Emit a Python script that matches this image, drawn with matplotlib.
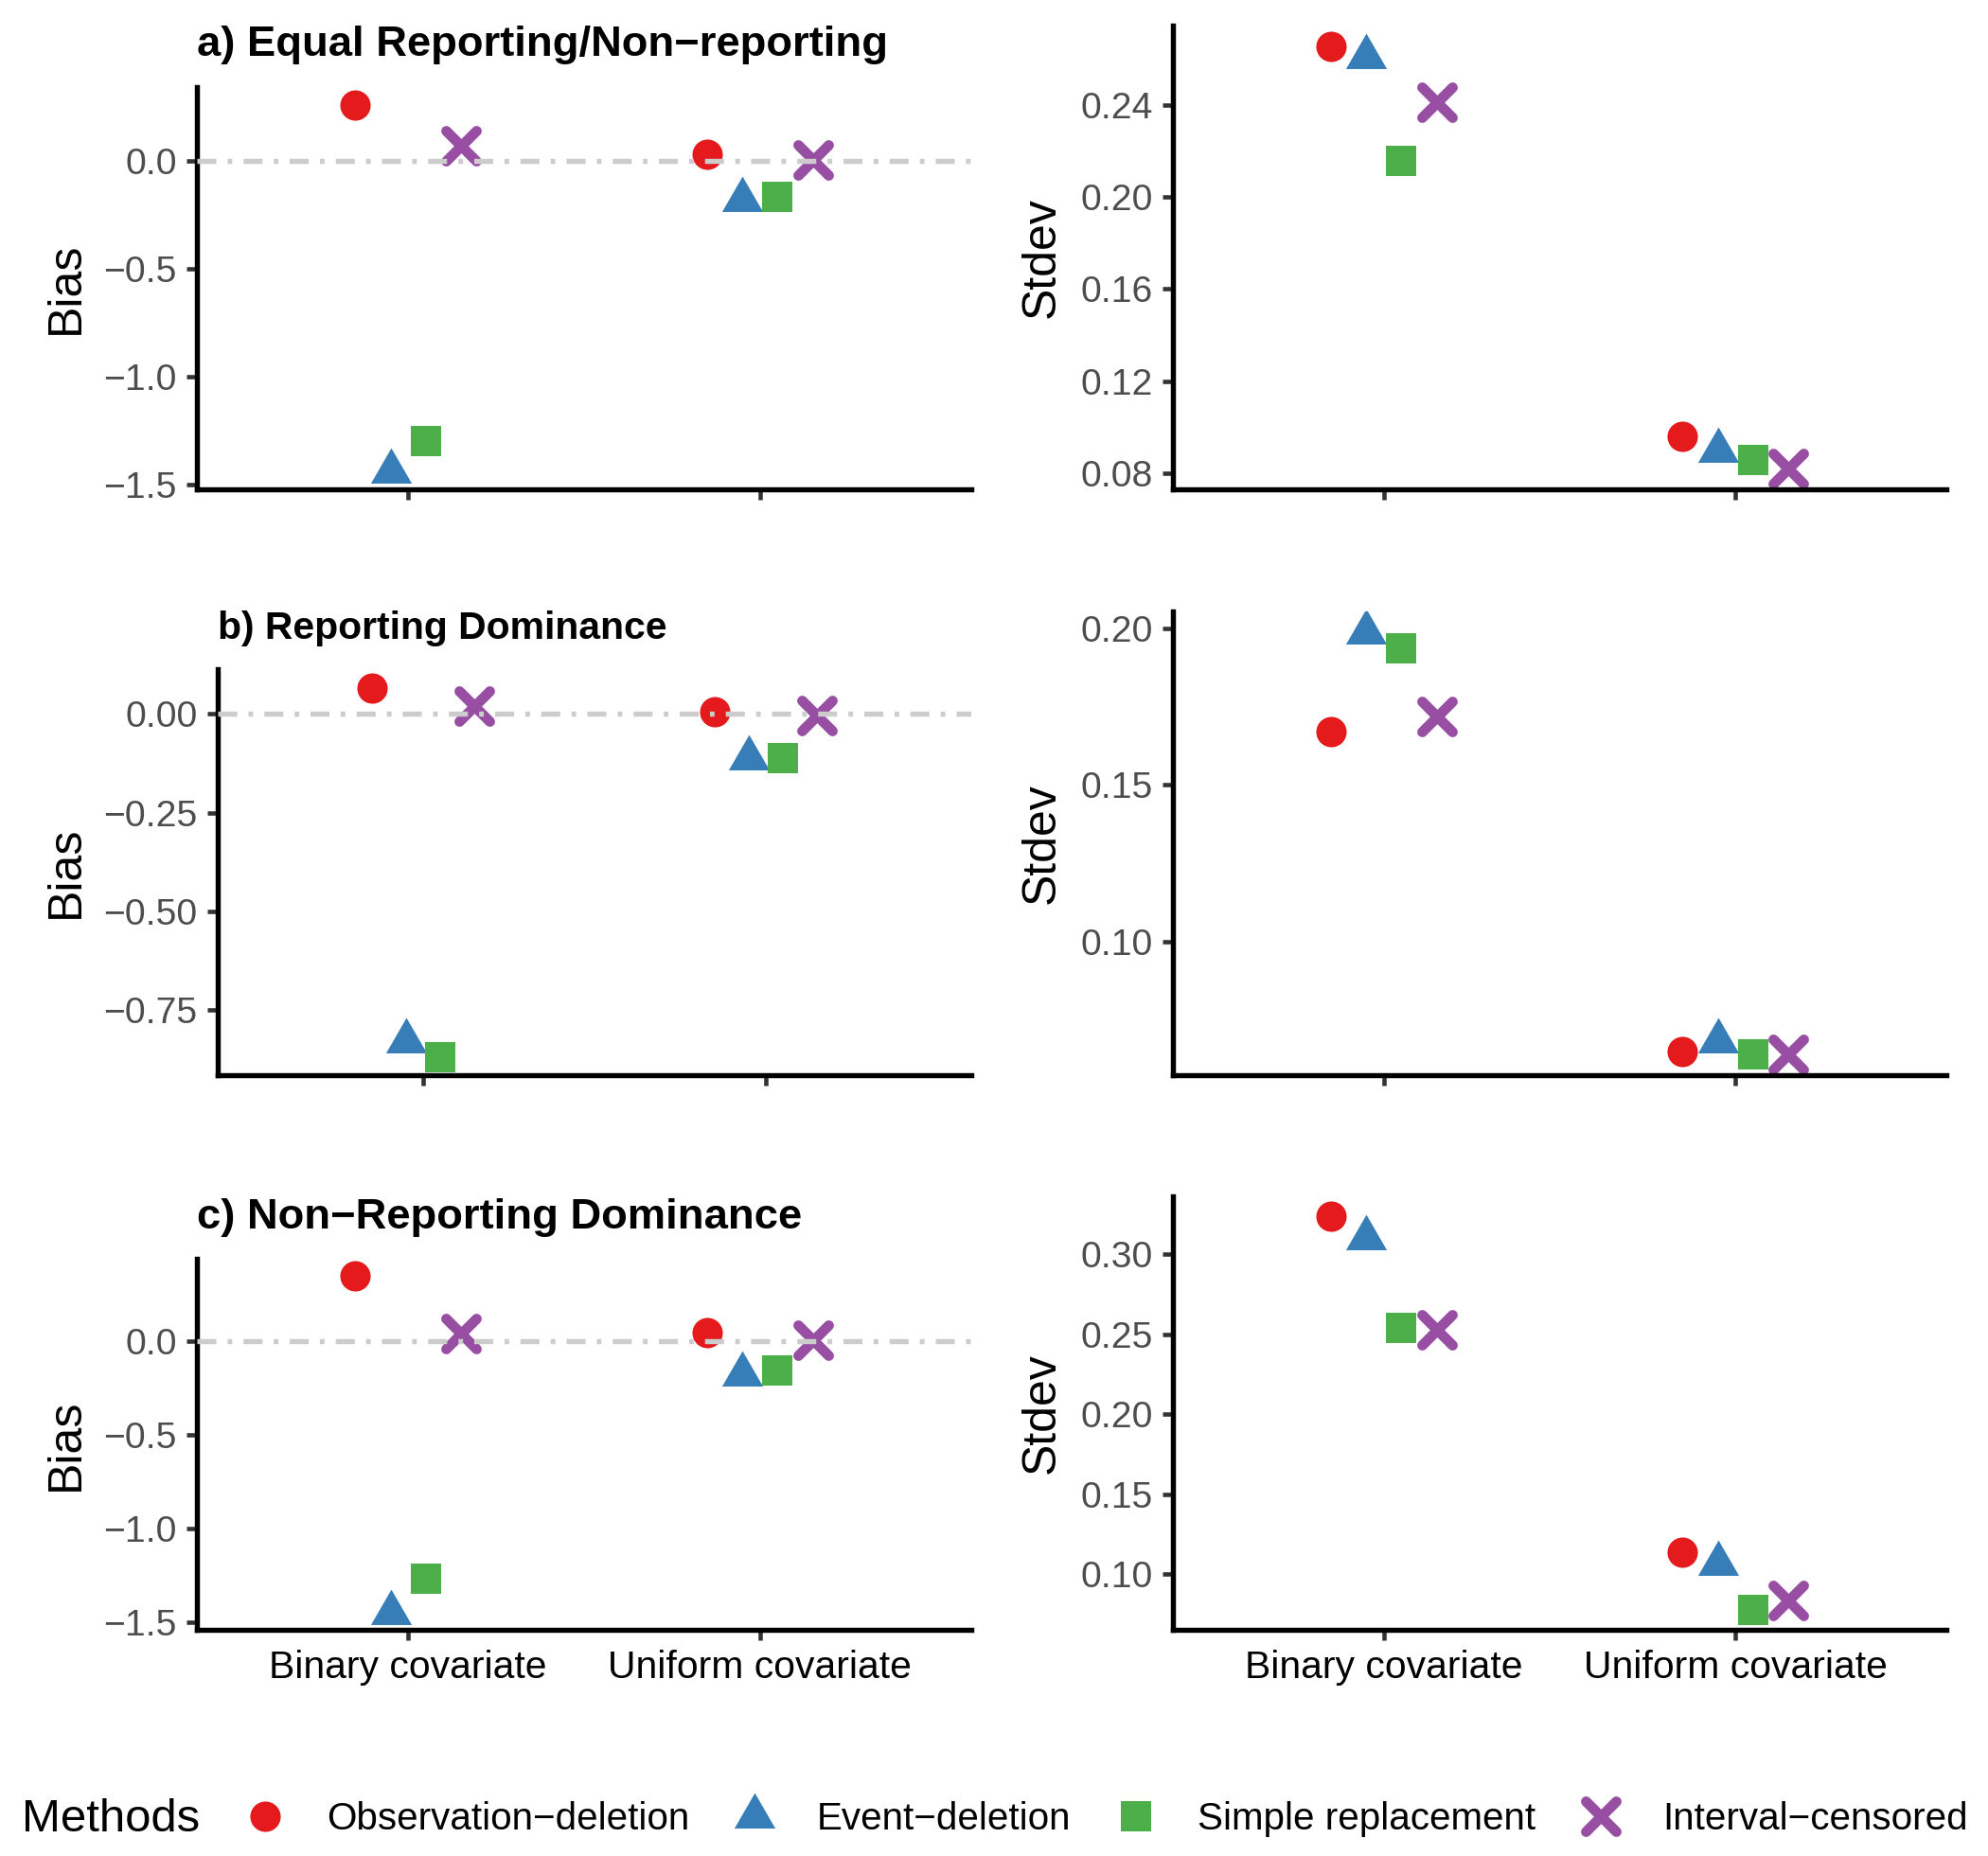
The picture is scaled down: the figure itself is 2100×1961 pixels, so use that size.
import matplotlib
matplotlib.use("Agg")
import matplotlib.pyplot as plt
from matplotlib.lines import Line2D
from matplotlib.markers import MarkerStyle
from matplotlib.path import Path
from matplotlib.ticker import MultipleLocator

plt.rcParams['font.family'] = ['Liberation Sans', 'DejaVu Sans']

covariates = ["Binary covariate", "Uniform covariate"]
methods = ["Observation\u2212deletion", "Event\u2212deletion",
           "Simple replacement", "Interval\u2212censored"]
colors = ["#E41A1C", "#377EB8", "#4DAF4A", "#984EA3"]
titles = ["a) Equal Reporting/Non\u2212reporting",
          "b) Reporting Dominance",
          "c) Non\u2212Reporting Dominance"]

# values per method, in the order of `methods`
bias_a_binary = [0.257, -1.436, -1.295, 0.070]
bias_a_uniform = [0.031, -0.180, -0.166, 0.003]
sd_a_binary = [0.2656, 0.2613, 0.2157, 0.2416]
sd_a_uniform = [0.0960, 0.0896, 0.0856, 0.0820]

bias_b_binary = [0.067, -0.829, -0.868, 0.021]
bias_b_uniform = [0.006, -0.111, -0.112, -0.003]
sd_b_binary = [0.1670, 0.1987, 0.1935, 0.1720]
sd_b_uniform = [0.0649, 0.0680, 0.0640, 0.0640]

bias_c_binary = [0.347, -1.452, -1.271, 0.040]
bias_c_uniform = [0.045, -0.181, -0.161, 0.004]
sd_c_binary = [0.3240, 0.3100, 0.2538, 0.2528]
sd_c_uniform = [0.1138, 0.1070, 0.0777, 0.0836]

dodge = [-0.15, -0.05, 0.05, 0.15]

# R-style triangle: point sits at the centroid
tri = Path([(0, 1.555), (1.347, -0.778), (-1.347, -0.778), (0, 1.555)],
           [Path.MOVETO, Path.LINETO, Path.LINETO, Path.CLOSEPOLY])
dot = 7.7
marker_kw = [
    dict(marker='o', markersize=dot, markeredgewidth=0),
    dict(marker=tri, markersize=dot * 1.555, markeredgewidth=0),
    dict(marker='s', markersize=dot, markeredgewidth=0),
    dict(marker=MarkerStyle('x', capstyle='round'), markersize=dot,
         markeredgewidth=2.6),
]

W, H = 2100, 1961


def rect(x0, y0, x1, y1):
    return [x0 / W, 1 - y1 / H, (x1 - x0) / W, (y1 - y0) / H]


def draw_panel(ax, binary, uniform, step, hline, xlabels):
    for i in range(4):
        xs = [1 + dodge[i], 2 + dodge[i]]
        ys = [binary[i], uniform[i]]
        ax.plot(xs, ys, linestyle='none', color=colors[i], zorder=2,
                **marker_kw[i])
    if hline:
        ax.axhline(0, color='#CCCCCC', lw=1.3, dashes=(3.7, 2.2, 0.9, 2.2),
                   zorder=3)
    ax.set_xlim(0.4, 2.6)
    ax.margins(y=0.05)
    ax.yaxis.set_major_locator(MultipleLocator(step))
    ax.set_xticks([1, 2])
    ax.set_xticklabels(covariates)
    for s in ['top', 'right']:
        ax.spines[s].set_visible(False)
    for s in ['left', 'bottom']:
        ax.spines[s].set_linewidth(1.3)
        ax.spines[s].set_color('black')
    ax.tick_params(direction='out', length=2.75, width=1.1, color='#333333',
                   pad=2.4)
    ax.tick_params(axis='y', labelsize=9.4, labelcolor='#4D4D4D')
    ax.tick_params(axis='x', labelsize=9.8, labelcolor='black',
                   labelbottom=xlabels)


fig = plt.figure(figsize=(W / 300, H / 300), dpi=300)

panels = [
    # left rect, right rect, data, y steps, title (x, baseline, size)
    (rect(208, 92, 1026, 517), rect(1239, 27, 2056, 517),
     bias_a_binary, bias_a_uniform, sd_a_binary, sd_a_uniform,
     0.5, 0.04, (208, 59, 10.9)),
    (rect(230, 707, 1026, 1136), rect(1239, 646, 2056, 1136),
     bias_b_binary, bias_b_uniform, sd_b_binary, sd_b_uniform,
     0.25, 0.05, (230, 675, 9.8)),
    (rect(208, 1330, 1026, 1722), rect(1239, 1264, 2056, 1722),
     bias_c_binary, bias_c_uniform, sd_c_binary, sd_c_uniform,
     0.5, 0.05, (208, 1298, 10.9)),
]

for k, (rl, rr, bb, bu, sb, su, st_b, st_s, tpos) in enumerate(panels):
    last = k == 2
    axl = fig.add_axes(rl)
    draw_panel(axl, bb, bu, st_b, True, last)
    axl.set_ylabel("Bias", fontsize=12)
    axl.yaxis.set_label_coords(92.5 / W, rl[1] + rl[3] / 2,
                               transform=fig.transFigure)

    axr = fig.add_axes(rr)
    draw_panel(axr, sb, su, st_s, False, last)
    axr.set_ylabel("Stdev", fontsize=12)
    axr.yaxis.set_label_coords(1123.5 / W, rr[1] + rr[3] / 2,
                               transform=fig.transFigure)

    tx, ty, tsize = tpos
    fig.text(tx / W, 1 - ty / H, titles[k], fontsize=tsize, fontweight='bold',
             ha='left', va='baseline')

# legend
handles = [Line2D([], [], linestyle='none', color=colors[i], **marker_kw[i])
           for i in range(4)]
fig.text(23 / W, 1 - 1922 / H, "Methods", fontsize=11.8, ha='left',
         va='center')
fig.legend(handles, methods, loc='center left',
           bbox_to_anchor=(259.8 / W, 1 - 1922 / H), ncol=4, frameon=False,
           fontsize=9.7, handlelength=1.0, handletextpad=1.11,
           columnspacing=1.21, borderpad=0, borderaxespad=0)

fig.savefig("out.png", dpi=300)
